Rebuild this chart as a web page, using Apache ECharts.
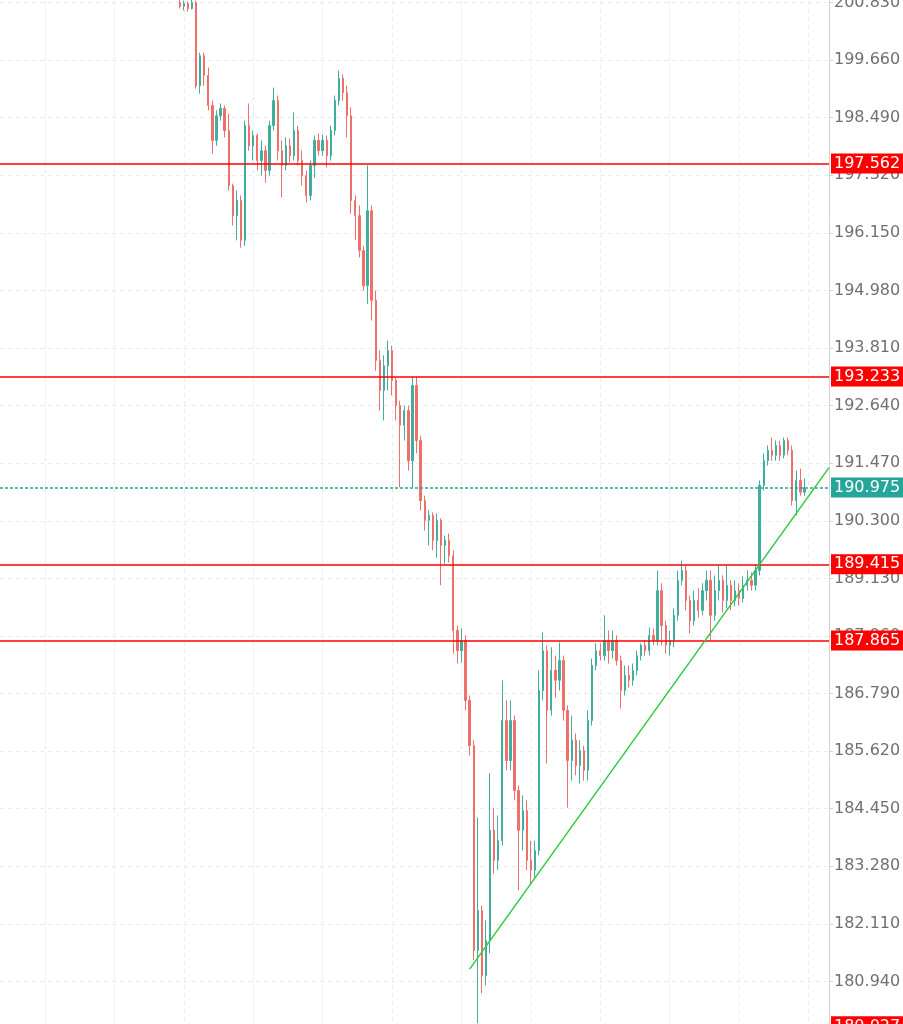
<!DOCTYPE html>
<html>
<head>
<meta charset="utf-8">
<script src="https://cdn.jsdelivr.net/npm/echarts@6/dist/echarts.min.js"></script>
<style>
html, body { margin: 0; padding: 0; background: #fff; overflow: hidden; width: 903px; height: 1024px; position: relative; }
#chart { position: absolute; left: 0; top: -55px; width: 903px; height: 1094px; }
</style>
</head>
<body>
<div id="chart"></div>
<script>
// bar slots on the time axis, first traded bar sits at slot 44
const slotCount = 204;
const firstSlot = 44;

const opens = [
  200.83, 200.75, 200.81, 200.71, 200.83, 199.14, 199.75, 199.35, 198.74, 198.03,
  198.53, 198.68, 198.23, 197.11, 196.50, 196.81, 196.00, 198.33, 197.92, 198.13,
  197.62, 197.82, 197.42, 198.33, 198.84, 197.82, 197.52, 197.92, 197.72, 198.23,
  197.62, 197.31, 196.91, 197.52, 198.03, 197.82, 198.03, 197.72, 198.23, 198.84,
  199.29, 199.00, 198.53, 196.81, 196.50, 195.79, 195.08, 196.60, 194.78, 193.56,
  192.95, 193.45, 193.76, 193.15, 192.64, 192.24, 192.54, 191.52, 193.05, 191.93,
  190.71, 190.31, 190.41, 189.90, 190.31, 189.80, 189.90, 189.59, 188.07, 187.66,
  187.87, 186.65, 185.73, 181.57, 182.38, 181.06, 181.77, 184.01, 183.40, 183.80,
  186.24, 185.43, 186.24, 184.82, 184.01, 184.41, 183.40, 183.20, 183.60, 186.85,
  187.66, 186.45, 187.26, 187.06, 187.46, 186.45, 185.43, 185.84, 185.33, 185.63,
  185.23, 186.24, 187.36, 187.66, 187.56, 187.87, 187.66, 187.87, 187.46, 186.85,
  187.16, 187.06, 187.26, 187.56, 187.77, 187.66, 187.97, 187.87, 188.88, 188.17,
  187.77, 187.87, 188.38, 189.09, 189.29, 188.68, 188.27, 188.68, 188.48, 188.88,
  189.09, 188.38, 188.88, 189.09, 188.68, 188.99, 188.68, 188.88, 188.72, 188.99,
  189.09, 188.99, 189.29, 191.02, 191.52, 191.73, 191.63, 191.83, 191.63, 191.93,
  191.73, 190.71, 191.12, 190.88
];
const closes = [
  200.75, 200.81, 200.71, 200.83, 199.14, 199.75, 199.35, 198.74, 198.03, 198.53,
  198.68, 198.23, 197.11, 196.50, 196.81, 196.00, 198.33, 197.92, 198.13, 197.62,
  197.82, 197.42, 198.33, 198.84, 197.82, 197.52, 197.92, 197.72, 198.23, 197.62,
  197.31, 196.91, 197.52, 198.03, 197.82, 198.03, 197.72, 198.23, 198.84, 199.29,
  199.00, 198.53, 196.81, 196.50, 195.79, 195.08, 196.60, 194.78, 193.56, 192.95,
  193.45, 193.76, 193.15, 192.64, 192.24, 192.54, 191.52, 193.05, 191.93, 190.71,
  190.31, 190.41, 189.90, 190.31, 189.80, 189.90, 189.59, 188.07, 187.66, 187.87,
  186.65, 185.73, 181.57, 182.38, 181.06, 181.77, 184.01, 183.40, 183.80, 186.24,
  185.43, 186.24, 184.82, 184.01, 184.41, 183.40, 183.20, 183.60, 186.85, 187.66,
  186.45, 187.26, 187.06, 187.46, 186.45, 185.43, 185.84, 185.33, 185.63, 185.23,
  186.24, 187.36, 187.66, 187.56, 187.87, 187.66, 187.87, 187.46, 186.85, 187.16,
  187.06, 187.26, 187.56, 187.77, 187.66, 187.97, 187.87, 188.88, 188.17, 187.77,
  187.87, 188.38, 189.09, 189.29, 188.68, 188.27, 188.68, 188.48, 188.88, 189.09,
  188.38, 188.88, 189.09, 188.68, 188.99, 188.68, 188.88, 188.72, 188.99, 189.09,
  188.99, 189.29, 191.02, 191.52, 191.73, 191.63, 191.83, 191.63, 191.93, 191.73,
  190.71, 191.12, 190.88, 190.975
];
const lows = [
  200.71, 200.67, 200.65, 200.69, 199.08, 198.98, 199.14, 198.64, 197.76, 197.92,
  198.43, 198.09, 197.01, 196.30, 196.00, 195.85, 195.89, 197.82, 197.62, 197.42,
  197.31, 197.17, 197.31, 198.23, 197.62, 196.87, 197.42, 197.58, 197.62, 197.52,
  197.11, 196.77, 196.81, 197.27, 197.72, 197.72, 197.48, 197.62, 198.13, 198.74,
  198.84, 198.09, 196.54, 196.00, 195.65, 194.98, 194.71, 194.37, 193.35, 192.54,
  192.34, 192.95, 192.85, 192.34, 190.98, 191.93, 191.32, 190.98, 191.67, 190.51,
  190.10, 189.80, 189.70, 189.55, 188.99, 189.43, 189.45, 187.60, 187.40, 187.42,
  186.45, 185.53, 181.37, 180.09, 180.70, 180.86, 181.51, 183.13, 183.20, 183.70,
  185.23, 185.23, 184.62, 182.79, 183.60, 183.20, 182.93, 183.03, 183.50, 186.65,
  185.37, 186.34, 186.71, 186.85, 186.24, 184.47, 185.02, 185.13, 184.96, 185.02,
  185.02, 186.14, 187.26, 187.46, 187.46, 187.40, 187.50, 187.36, 186.49, 186.75,
  186.91, 186.95, 187.16, 187.46, 187.56, 187.56, 187.77, 187.77, 187.77, 187.60,
  187.56, 187.73, 188.27, 188.99, 188.48, 188.01, 188.17, 188.33, 188.38, 188.68,
  187.87, 188.27, 188.68, 188.44, 188.52, 188.48, 188.56, 188.58, 188.64, 188.88,
  188.88, 188.88, 189.19, 190.92, 191.42, 191.52, 191.52, 191.52, 191.57, 191.63,
  190.61, 190.41, 190.81, 190.81
];
const highs = [
  200.97, 200.87, 200.85, 200.91, 200.87, 199.81, 199.81, 199.51, 198.84, 198.64,
  198.78, 198.74, 198.57, 197.15, 197.01, 196.91, 198.43, 198.78, 198.23, 198.17,
  198.03, 197.92, 198.43, 199.10, 198.94, 198.03, 198.09, 198.07, 198.60, 198.33,
  197.82, 197.42, 197.62, 198.13, 198.17, 198.15, 198.13, 198.33, 198.94, 199.45,
  199.37, 199.14, 198.70, 196.91, 196.71, 195.89, 197.52, 196.71, 194.98, 193.76,
  193.66, 193.96, 193.86, 193.21, 192.74, 192.64, 192.64, 193.23, 193.23, 192.03,
  190.81, 190.51, 190.47, 190.45, 190.35, 190.00, 190.04, 189.70, 188.17, 188.11,
  187.97, 186.75, 185.84, 184.27, 182.48, 182.18, 185.17, 184.47, 184.31, 187.06,
  186.65, 186.65, 186.34, 184.92, 184.72, 184.62, 183.80, 183.80, 187.26, 188.03,
  187.77, 187.73, 187.56, 187.83, 187.56, 186.55, 186.34, 185.98, 185.84, 185.73,
  186.45, 187.50, 187.81, 187.81, 188.38, 188.07, 188.07, 187.97, 187.56, 187.36,
  187.36, 187.40, 187.66, 187.81, 187.87, 188.13, 188.11, 189.29, 189.03, 188.27,
  188.07, 188.52, 189.29, 189.49, 189.39, 188.78, 188.88, 188.93, 189.03, 189.29,
  189.29, 189.19, 189.39, 189.19, 189.39, 189.09, 189.09, 189.03, 189.17, 189.29,
  189.25, 189.39, 191.12, 191.67, 191.83, 191.99, 191.93, 191.93, 191.99, 191.99,
  191.83, 191.32, 191.36, 191.16
];

// price scale: ticks every 1.170 counted from yMin
const yMin = 179.77;
const yMax = 202.0;
const yStep = 1.17;

// drawn levels
const redLevels = [197.562, 193.233, 189.415, 187.865, 180.027];
const lastPrice = 190.975;
const trendStart = [115, 181.19];
const trendEnd = [203, 191.38];

const categories = [];
for (let i = 0; i < slotCount; i++) categories.push(String(i));

const candleData = categories.map((c, i) => {
  const k = i - firstSlot;
  if (k < 0 || k >= opens.length) return '-';
  return [opens[k], closes[k], lows[k], highs[k]];
});

const UP = '#3fae9f';
const DOWN = '#ef6f6a';
const BADGE_UP = '#26a69a';
const LEVEL = '#ff0000';
const FONT = 'DejaVu Sans';

function badge(bg) {
  return {
    show: true,
    position: 'end',
    distance: 2,
    formatter: '{c}',
    color: '#fff',
    backgroundColor: bg,
    fontFamily: FONT,
    fontSize: 16,
    lineHeight: 17,
    padding: [2, 3, 1, 3]
  };
}

const markData = redLevels.map(v => ({
  yAxis: v,
  lineStyle: { color: LEVEL, width: 1.5, type: 'solid', opacity: 1 },
  label: badge(LEVEL)
}));
markData.push({
  yAxis: lastPrice,
  lineStyle: { color: BADGE_UP, width: 1.5, type: [3, 2], opacity: 1 },
  label: badge(BADGE_UP)
});
markData.push([
  { coord: trendStart, lineStyle: { color: '#2ecc40', width: 1.5, type: 'solid', opacity: 1 }, label: { show: false } },
  { coord: trendEnd }
]);

const chart = echarts.init(document.getElementById('chart'));
chart.setOption({
  animation: false,
  backgroundColor: '#fff',
  textStyle: { fontFamily: FONT },
  grid: { left: 0, right: 74, top: 0, bottom: 0, containLabel: false, outerBoundsMode: 'none' },
  xAxis: {
    type: 'category',
    data: categories,
    boundaryGap: false,
    axisLine: { show: false },
    axisTick: { show: false },
    axisLabel: { show: false },
    splitLine: {
      show: true,
      interval: (i) => (i - 11) % 17 === 0,
      lineStyle: { color: '#ebebeb', type: [4, 4] }
    }
  },
  yAxis: {
    type: 'value',
    position: 'right',
    min: yMin,
    max: yMax,
    interval: yStep,
    axisLine: { show: true, lineStyle: { color: '#d2d2d2' } },
    axisTick: { show: true, length: 4, lineStyle: { color: '#d2d2d2' } },
    axisLabel: {
      margin: 5,
      color: '#707070',
      fontSize: 16,
      fontFamily: FONT,
      formatter: v => v.toFixed(3)
    },
    splitLine: { show: true, lineStyle: { color: '#ebebeb', type: [4, 4] } }
  },
  series: [{
    type: 'candlestick',
    data: candleData,
    barWidth: 1.8,
    itemStyle: {
      color: UP,
      color0: DOWN,
      borderColor: UP,
      borderColor0: DOWN,
      borderWidth: 1
    },
    markLine: {
      silent: true,
      symbol: ['none', 'none'],
      precision: 3,
      animation: false,
      lineStyle: { opacity: 1 },
      data: markData
    }
  }]
});
</script>
</body>
</html>
